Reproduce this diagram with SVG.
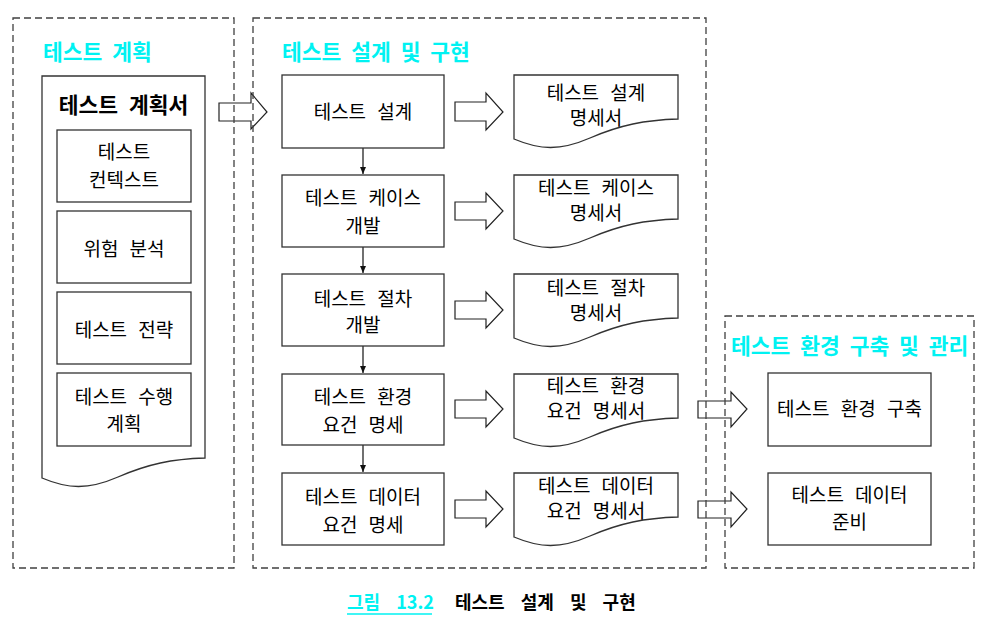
<svg xmlns="http://www.w3.org/2000/svg" width="993" height="629" viewBox="0 0 993 629">
<style>
.frame{fill:none;stroke:#404040;stroke-width:1.3;stroke-dasharray:7 4}
.box{fill:#fff;stroke:#333;stroke-width:1.3}
.doc{fill:#fff;stroke:#333;stroke-width:1.3}
.blk{fill:#fff;stroke:#222;stroke-width:1.2}
.t{font-family:"Noto Sans CJK KR","Liberation Sans",sans-serif;font-size:19px;font-weight:normal;fill:#000;text-anchor:middle;word-spacing:7px}
.title{font-family:"Noto Sans CJK KR","Liberation Sans",sans-serif;font-size:21.5px;font-weight:bold;fill:#00F2F2;word-spacing:5px}
.bt{font-family:"Noto Sans CJK KR","Liberation Sans",sans-serif;font-size:21.5px;font-weight:bold;fill:#000;text-anchor:middle;word-spacing:6px}
.cap{font-family:"Noto Sans CJK KR","Liberation Sans",sans-serif;font-size:18px;font-weight:bold;word-spacing:12px}
.conn{stroke:#111;stroke-width:1.2;fill:none}
</style>
<defs>
<marker id="ah" markerWidth="8" markerHeight="12" refX="7" refY="4" orient="auto" markerUnits="userSpaceOnUse" viewBox="0 0 8 8">
<path d="M0,1 L7,4 L0,7 Z" fill="#111"/>
</marker>
</defs>
<rect width="993" height="629" fill="#fff"/>

<g id="connectors">
<path class="conn" d="M363,148 V174" marker-end="url(#ah)"/>
<path class="conn" d="M363,247 V273" marker-end="url(#ah)"/>
<path class="conn" d="M363,346 V373" marker-end="url(#ah)"/>
<path class="conn" d="M363,445 V472" marker-end="url(#ah)"/>
<path class="blk" d="M219,103 H251 V93 L267,112 L251,129 V121 H219 Z"/>
<path class="blk" d="M455,102 H486 V93 L503,112 L486,130 V121 H455 Z"/>
<path class="blk" d="M455,202 H486 V193 L503,211 L486,229 V220 H455 Z"/>
<path class="blk" d="M455,301 H486 V292 L503,310 L486,328 V319 H455 Z"/>
<path class="blk" d="M455,400 H486 V391 L503,409 L486,427 V418 H455 Z"/>
<path class="blk" d="M455,500 H486 V491 L503,509 L486,527 V518 H455 Z"/>
<path class="blk" d="M698,401 H731 V392 L747,409 L731,427 V418 H698 Z"/>
<path class="blk" d="M698,501 H731 V492 L747,509 L731,527 V518 H698 Z"/>
</g>

<g id="frames">
<rect class="frame" x="13" y="18" width="221" height="550"/>
<rect class="frame" x="253" y="18" width="453" height="550"/>
<rect class="frame" x="725" y="316" width="249" height="252"/>
<text class="title" x="43" y="60">테스트 계획</text>
<text class="title" x="282" y="60">테스트 설계 및 구현</text>
<text class="title" x="731" y="354">테스트 환경 구축 및 관리</text>
</g>

<g id="plan-doc">
<path class="doc" d="M205,76 H42 V478 C68,489 88,490 118,477 C148,464 172,459 205,458 Z"/>
<text class="bt" x="123.5" y="113">테스트 계획서</text>
</g>
<g id="plan-context"><rect class="box" x="57" y="130" width="134" height="72"/><text class="t" x="124" y="159">테스트</text><text class="t" x="124" y="187">컨텍스트</text></g>
<g id="plan-risk"><rect class="box" x="57" y="211" width="134" height="72"/><text class="t" x="124" y="256">위험 분석</text></g>
<g id="plan-strategy"><rect class="box" x="57" y="292" width="134" height="72"/><text class="t" x="124" y="337">테스트 전략</text></g>
<g id="plan-exec"><rect class="box" x="57" y="373" width="134" height="73"/><text class="t" x="124" y="404">테스트 수행</text><text class="t" x="124" y="431">계획</text></g>

<g id="design"><rect class="box" x="282" y="75" width="162" height="73"/><text class="t" x="363" y="119">테스트 설계</text></g>
<g id="case"><rect class="box" x="282" y="175" width="162" height="72"/><text class="t" x="363" y="205">테스트 케이스</text><text class="t" x="363" y="233">개발</text></g>
<g id="procedure"><rect class="box" x="282" y="274" width="162" height="72"/><text class="t" x="363" y="305.5">테스트 절차</text><text class="t" x="363" y="332">개발</text></g>
<g id="env-req"><rect class="box" x="282" y="374" width="162" height="71"/><text class="t" x="363" y="404">테스트 환경</text><text class="t" x="363" y="432">요건 명세</text></g>
<g id="data-req"><rect class="box" x="282" y="473" width="162" height="72"/><text class="t" x="363" y="504">테스트 데이터</text><text class="t" x="363" y="532">요건 명세</text></g>

<g id="design-spec"><path class="doc" d="M678,75 H514 V139 C540,150 560,151 590,138 C620,125 645,120 678,119 Z"/><text class="t" x="596" y="99.5">테스트 설계</text><text class="t" x="596" y="124.5">명세서</text></g>
<g id="case-spec"><path class="doc" d="M678,175 H514 V239 C540,250 560,251 590,238 C620,225 645,220 678,219 Z"/><text class="t" x="596" y="195">테스트 케이스</text><text class="t" x="596" y="219.5">명세서</text></g>
<g id="procedure-spec"><path class="doc" d="M678,274 H514 V338 C540,349 560,350 590,337 C620,324 645,319 678,318 Z"/><text class="t" x="596" y="295">테스트 절차</text><text class="t" x="596" y="320">명세서</text></g>
<g id="env-spec"><path class="doc" d="M678,374 H514 V438 C540,449 560,450 590,437 C620,424 645,419 678,418 Z"/><text class="t" x="596" y="393">테스트 환경</text><text class="t" x="596" y="417.5">요건 명세서</text></g>
<g id="data-spec"><path class="doc" d="M678,473 H514 V537 C540,548 560,549 590,536 C620,523 645,518 678,517 Z"/><text class="t" x="596" y="493">테스트 데이터</text><text class="t" x="596" y="517.5">요건 명세서</text></g>

<g id="env-build"><rect class="box" x="768" y="373" width="163" height="73"/><text class="t" x="849.5" y="416">테스트 환경 구축</text></g>
<g id="data-prep"><rect class="box" x="768" y="473" width="163" height="72"/><text class="t" x="849.5" y="502">테스트 데이터</text><text class="t" x="849.5" y="529">준비</text></g>

<g id="caption">
<text class="cap" x="347" y="609" fill="#00F2F2" font-weight="500" word-spacing="9">그림 13.2</text>
<line x1="347" y1="614" x2="432" y2="614" stroke="#00F2F2" stroke-width="1.5"/>
<text class="cap" x="455" y="609" fill="#000">테스트 설계 및 구현</text>
</g>
</svg>
